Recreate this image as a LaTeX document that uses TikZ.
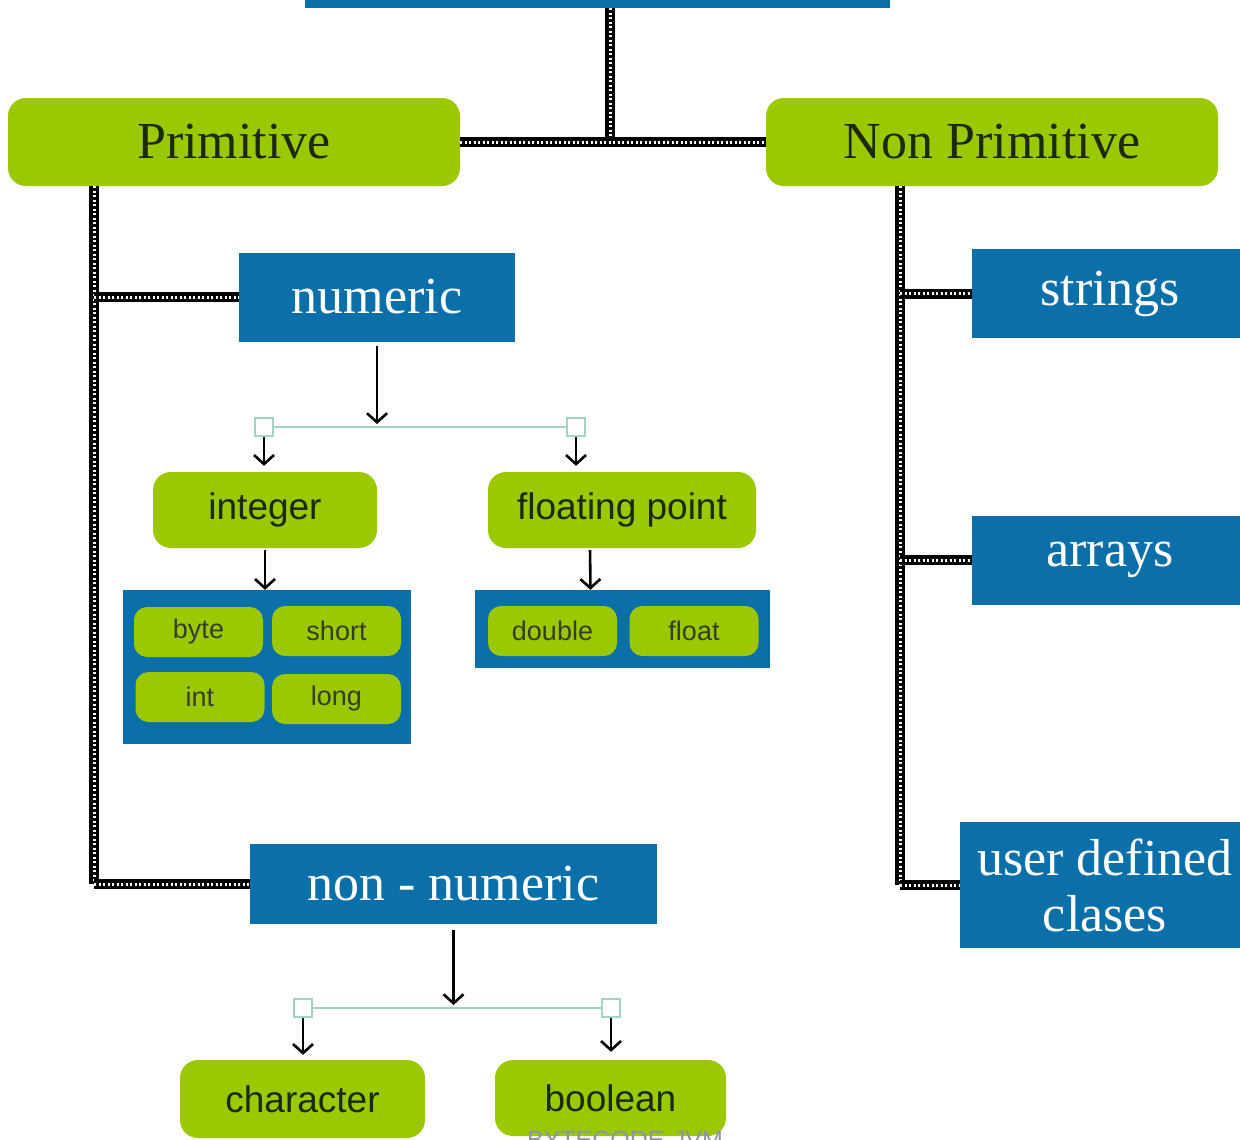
\documentclass[tikz,border=0pt]{standalone}
\usepackage{fontspec}
\setmainfont{Liberation Serif}
\newfontfamily\labelfont{Liberation Sans}
\usetikzlibrary{arrows.meta}
\definecolor{leaf}{HTML}{9BC800}
\definecolor{ocean}{HTML}{0B6FA9}
\definecolor{mint}{HTML}{A3D2C6}
\definecolor{ink}{HTML}{1C2A0C}
\definecolor{wmgray}{HTML}{8E93A6}

\begin{document}
\begin{tikzpicture}[x=1pt, y=-1pt,
	big box/.style={fill=ocean, text=white, font=\fontsize{52}{60}\selectfont, inner sep=0pt},
	big leaf/.style={fill=leaf, text=ink, rounded corners=18pt, font=\fontsize{52}{60}\selectfont, inner sep=0pt},
	mid leaf/.style={fill=leaf, text=ink, rounded corners=18pt, font=\labelfont\fontsize{37}{44}\selectfont, inner sep=0pt},
	pill/.style={fill=leaf, text=ink!90, rounded corners=13pt, minimum width=129pt, minimum height=50pt, font=\labelfont\fontsize{27}{32}\selectfont, inner sep=0pt},
	group/.style={fill=ocean, inner sep=0pt},
	rail/.style={draw=white, line width=3pt, dash pattern=on 2pt off 2.5pt, preaction={draw=black, solid, line width=10pt}},
	splitter/.style={draw=mint, line width=2pt},
	split box/.style={draw=mint, fill=white, line width=2pt, minimum size=18pt, inner sep=0pt},
	arrow/.style={-{Straight Barb[length=9pt,width=20pt]}, line width=2.6pt}]

	\useasboundingbox (0,0) rectangle (1240,1140);

	% top bar (cut off)
	\node[group, minimum width=585pt, minimum height=48pt] (root) at (597.5,-16) {};

	% main categories
	\node[big leaf, minimum width=452pt, minimum height=88pt] (prim) at (234,142) {Primitive};
	\node[big leaf, minimum width=452pt, minimum height=88pt] (nonprim) at (992,142) {Non Primitive};
	\coordinate (hub) at (610,142);
	\draw[rail] (hub |- root.south) -- (hub);
	\draw[rail] (prim.east) -- (nonprim.west);

	% primitive branch
	\node[big box, minimum width=276pt, minimum height=89pt] (numeric) at (377,297) {numeric};
	\node[big box, minimum width=407pt, minimum height=80pt] (nonnum) at (453.5,884) {non - numeric};
	\coordinate (lrail) at (94,186);
	\draw[rail] (lrail) -- (lrail |- nonnum.west);
	\foreach \target in {numeric, nonnum}
		\draw[rail] (lrail |- \target.west) -- (\target.west);

	% numeric subtypes
	\node[split box] (nl) at (264,427) {};
	\node[split box] (nr) at (576,427) {};
	\draw[splitter] (nl) -- (nr);
	\draw[arrow, shorten <=4pt, shorten >=3pt] (numeric.south) -- (numeric.south |- nl.center);
	\node[mid leaf, minimum width=224pt, minimum height=76pt] (integer) at (265,510) {integer};
	\node[mid leaf, minimum width=268pt, minimum height=76pt] (floating) at (622,510) {floating point};
	\draw[arrow, shorten >=6pt] (nl.south) -- (nl.south |- integer.north);
	\draw[arrow, shorten >=6pt] (nr.south) -- (nr.south |- floating.north);

	% integer group
	\node[group, minimum width=288pt, minimum height=154pt] (intgrp) at (267,667) {};
	\foreach \kind/\x/\y in {byte/198.5/632, short/336.5/631, int/200/697, long/336.5/699}
		\node[pill] (\kind) at (\x,\y) {\kind};
	\draw[arrow, shorten <=2pt] (integer.south) -- (integer.south |- intgrp.north);

	% floating point group
	\node[group, minimum width=295pt, minimum height=78pt] (fltgrp) at (622.5,629) {};
	\foreach \kind/\x in {double/552.5, float/694}
		\node[pill] (\kind) at (\x,631) {\kind};
	\draw[arrow, shorten <=2pt] ([xshift=-32pt]floating.south) -- ([xshift=-32pt]fltgrp.north);

	% non-numeric subtypes
	\node[split box] (cl) at (303,1008) {};
	\node[split box] (cr) at (611,1008) {};
	\draw[splitter] (cl) -- (cr);
	\draw[arrow, shorten <=6pt, shorten >=3pt] (nonnum.south) -- (nonnum.south |- cl.center);
	\node[mid leaf, minimum width=245pt, minimum height=78pt] (character) at (302.5,1099) {character};
	\node[mid leaf, minimum width=231pt, minimum height=76pt] (boolean) at (610.5,1098) {boolean};
	\draw[arrow, shorten >=5pt] (cl.south) -- (cl.south |- character.north);
	\draw[arrow, shorten >=8pt] (cr.south) -- (cr.south |- boolean.north);

	% non primitive branch
	\foreach \kind/\y in {strings/293.5, arrays/560}
		\node[big box, minimum width=276pt, minimum height=89pt] (\kind) at (1110,\y) {\kind};
	\node[big box, minimum width=290pt, minimum height=126pt, align=center] (udc) at (1105,885) {\raisebox{-4pt}{user defined}\\clases};
	\coordinate (rrail) at (900,186);
	\draw[rail] (rrail) -- (rrail |- udc.west);
	\foreach \target in {strings, arrays, udc}
		\draw[rail] (rrail |- \target.west) -- (\target.west);

	% watermark
	\node[text=wmgray, font=\labelfont\fontsize{25}{30}\selectfont, anchor=base, inner sep=0pt] (credit) at (625,1148) {BYTECODE-JVM};
\end{tikzpicture}
\end{document}
